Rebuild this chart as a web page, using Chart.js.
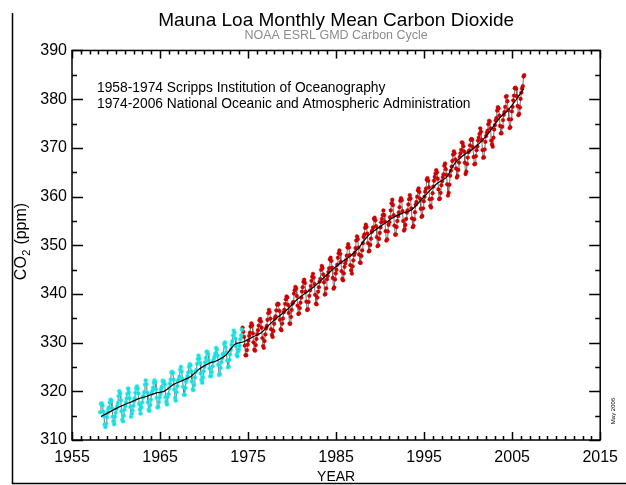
<!DOCTYPE html>
<html>
<head>
<meta charset="utf-8">
<title>Mauna Loa Monthly Mean Carbon Dioxide</title>
<script src="https://cdn.jsdelivr.net/npm/chart.js@4/dist/chart.umd.min.js"></script>
<style>
  body { margin: 0; background: #fff; }
  #wrap { position: relative; width: 626px; height: 485px; }
</style>
</head>
<body>
<div id="wrap"><canvas id="co2Chart"></canvas></div>
<script>
// Monthly means, one row per year (Jan..Dec), null = no value in this record
const scrippsFirstYear = 1958;
const scrippsCO2 = [
  [null, null, 315.71, 317.45, 317.50, 317.10, 315.86, 314.93, 313.20, 312.66, 313.33, 314.67],
  [315.62, 316.38, 316.71, 317.72, 318.29, 318.15, 316.54, 314.80, 313.84, 313.26, 314.80, 315.58],
  [316.43, 316.97, 317.58, 319.02, 320.03, 319.59, 318.18, 315.91, 314.16, 313.83, 315.00, 316.19],
  [316.93, 317.70, 318.54, 319.48, 320.58, 319.77, 318.57, 316.79, 314.80, 315.38, 316.10, 317.01],
  [317.94, 318.56, 319.68, 320.63, 321.01, 320.55, 319.58, 317.40, 316.26, 315.42, 316.69, 317.69],
  [318.74, 319.08, 319.86, 321.39, 322.25, 321.47, 319.74, 317.77, 316.21, 315.99, 317.12, 318.31],
  [319.57, 320.07, 320.73, 321.77, 322.25, 321.89, 320.44, 318.70, 316.70, 316.79, 317.79, 318.71],
  [319.44, 320.44, 320.89, 322.13, 322.16, 321.87, 321.39, 318.80, 317.81, 317.30, 318.87, 319.42],
  [320.62, 321.59, 322.39, 323.87, 324.01, 323.75, 322.39, 320.37, 318.64, 318.10, 319.79, 321.08],
  [322.07, 322.50, 323.04, 324.42, 325.00, 324.09, 322.55, 320.92, 319.31, 319.31, 320.72, 321.96],
  [322.57, 323.15, 323.89, 325.02, 325.57, 325.36, 324.14, 322.03, 320.41, 320.25, 321.31, 322.84],
  [324.00, 324.42, 325.64, 326.66, 327.34, 326.76, 325.88, 323.67, 322.38, 321.78, 322.85, 324.11],
  [325.03, 325.99, 326.87, 328.13, 328.07, 327.66, 326.35, 324.69, 323.10, 323.16, 323.98, 325.13],
  [326.17, 326.68, 327.18, 327.78, 328.92, 328.57, 327.34, 325.46, 323.36, 323.57, 324.80, 326.01],
  [326.77, 327.63, 327.75, 329.72, 330.07, 329.09, 328.05, 326.32, 324.93, 325.06, 326.50, 327.55],
  [328.54, 329.56, 330.30, 331.50, 332.48, 332.07, 330.87, 329.31, 327.51, 327.18, 328.16, 328.64],
  [329.35, 330.71, 331.48, 332.65, null, null, null, null, null, null, null, null]
];

const noaaFirstYear = 1974;
const noaaCO2 = [
  [null, null, null, null, 333.09, 332.25, 331.18, 329.40, 327.43, 327.37, 328.46, 329.57],
  [330.40, 331.40, 332.04, 333.31, 333.96, 333.59, 331.91, 330.06, 328.56, 328.34, 329.49, 330.76],
  [331.75, 332.56, 333.50, 334.58, 334.87, 334.34, 333.05, 330.94, 329.30, 328.94, 330.31, 331.68],
  [332.93, 333.42, 334.70, 336.07, 336.74, 336.27, 334.93, 332.75, 331.58, 331.16, 332.40, 333.85],
  [334.97, 335.39, 336.64, 337.76, 338.01, 337.89, 336.54, 334.68, 332.76, 332.54, 333.92, 334.95],
  [336.23, 336.76, 337.96, 338.89, 339.47, 339.29, 337.73, 336.09, 333.91, 333.86, 335.29, 336.73],
  [338.01, 338.36, 340.08, 340.77, 341.46, 341.17, 339.56, 337.60, 335.88, 336.01, 337.10, 338.21],
  [339.24, 340.48, 341.38, 342.51, 342.91, 342.25, 340.49, 338.43, 336.69, 336.85, 338.36, 339.61],
  [340.75, 341.61, 342.70, 343.56, 344.13, 343.35, 342.06, 339.82, 337.97, 337.86, 339.26, 340.49],
  [341.38, 342.52, 343.10, 344.94, 345.75, 345.32, 343.99, 342.39, 339.86, 339.99, 341.16, 342.99],
  [343.70, 344.51, 345.28, 347.08, 347.43, 346.79, 345.40, 343.28, 341.07, 341.35, 342.98, 344.22],
  [344.97, 346.00, 347.43, 348.35, 348.93, 348.25, 346.56, 344.67, 343.09, 342.80, 344.24, 345.56],
  [346.29, 346.96, 347.86, 349.55, 350.21, 349.54, 347.94, 345.91, 344.86, 344.17, 345.66, 346.90],
  [348.02, 348.47, 349.42, 350.99, 351.84, 351.25, 349.52, 348.10, 346.44, 346.36, 347.81, 348.96],
  [350.43, 351.72, 352.22, 353.59, 354.22, 353.79, 352.39, 350.44, 348.72, 348.88, 350.07, 351.34],
  [352.76, 353.07, 353.68, 355.42, 355.67, 355.13, 353.90, 351.67, 349.80, 349.99, 351.30, 352.52],
  [353.66, 354.70, 355.39, 356.20, 357.16, 356.22, 354.82, 352.91, 350.96, 351.18, 352.83, 354.21],
  [354.72, 355.75, 357.16, 358.60, 359.34, 358.24, 356.17, 354.03, 352.16, 352.21, 353.75, 354.99],
  [355.99, 356.72, 357.81, 359.15, 359.66, 359.25, 357.02, 355.00, 353.01, 353.31, 354.16, 355.40],
  [356.70, 357.17, 358.38, 359.46, 360.28, 359.60, 357.57, 355.52, 353.70, 353.98, 355.33, 356.80],
  [358.36, 358.91, 359.97, 361.26, 361.68, 360.95, 359.55, 357.49, 355.84, 356.00, 357.58, 359.04],
  [359.97, 361.00, 361.64, 363.45, 363.79, 363.26, 361.90, 359.46, 358.06, 357.75, 359.56, 360.70],
  [362.05, 363.25, 364.03, 364.72, 365.41, 364.97, 363.65, 361.49, 359.46, 359.60, 360.76, 362.33],
  [363.18, 364.00, 364.57, 366.35, 366.79, 365.62, 364.47, 362.51, 360.19, 360.77, 362.43, 364.28],
  [365.33, 366.15, 367.31, 368.61, 369.29, 368.87, 367.64, 365.77, 363.90, 364.23, 365.46, 366.97],
  [368.15, 368.87, 369.59, 371.14, 371.00, 370.35, 369.27, 366.94, 364.63, 365.12, 366.67, 368.01],
  [369.14, 369.46, 370.52, 371.66, 371.82, 371.70, 370.12, 368.12, 366.62, 366.73, 368.29, 369.53],
  [370.28, 371.50, 372.12, 372.87, 374.02, 373.30, 371.62, 369.55, 367.96, 368.09, 369.68, 371.24],
  [372.44, 373.08, 373.52, 374.85, 375.55, 375.40, 374.02, 371.49, 370.71, 370.25, 372.08, 373.78],
  [374.68, 375.62, 376.11, 377.65, 378.35, 378.13, 376.62, 374.50, 372.99, 373.00, 374.35, 375.70],
  [376.79, 377.37, 378.41, 380.52, 380.63, 379.57, 377.79, 375.86, 374.06, 374.24, 375.86, 377.48],
  [378.42, 379.76, 380.73, 382.24, 382.38, 382.15, 380.61, 378.60, 376.72, 376.98, 378.29, 380.07],
  [381.36, 382.19, 382.65, 384.65, 384.94, null, null, null, null, null, null, null]
];

// seasonally corrected trend (black line)
const trendYears = [1958.3, 1959.5, 1960.5, 1961.5, 1962.5, 1963.5, 1964.5, 1965.5, 1966.5, 1967.5,
  1968.5, 1969.5, 1970.5, 1971.5, 1972.5, 1973.5, 1974.5, 1975.5, 1976.5, 1977.5,
  1978.5, 1979.5, 1980.5, 1981.5, 1982.5, 1983.5, 1984.5, 1985.5, 1986.5, 1987.5,
  1988.5, 1989.5, 1990.5, 1991.5, 1992.5, 1993.5, 1994.5, 1995.5, 1996.5, 1997.5,
  1998.5, 1999.5, 2000.5, 2001.5, 2002.5, 2003.5, 2004.5, 2005.5, 2006.3];
const trendCO2 = [314.8, 315.98, 316.91, 317.64, 318.45, 318.99, 319.62, 320.04, 321.37, 322.18,
  323.05, 324.62, 325.68, 326.32, 327.46, 329.68, 330.19, 331.13, 332.03, 333.84,
  335.41, 336.84, 338.76, 340.12, 341.48, 343.15, 344.85, 346.35, 347.61, 349.31,
  351.69, 353.20, 354.45, 355.70, 356.54, 357.21, 358.96, 360.97, 362.74, 363.88,
  366.84, 368.54, 369.71, 371.32, 373.45, 375.98, 377.70, 379.98, 382.1];

const xTicks = [1955, 1965, 1975, 1985, 1995, 2005, 2015];
const yTicks = [310, 320, 330, 340, 350, 360, 370, 380, 390];
const sourceNotes = [
  '1958-1974 Scripps Institution of Oceanography',
  '1974-2006 National Oceanic and Atmospheric Administration'
];

// turn the yearly rows into {x: decimal year, y} points
function toPoints(firstYear, rows) {
  const pts = [];
  rows.forEach((row, i) => {
    row.forEach((v, m) => {
      if (v !== null) pts.push({ x: firstYear + i + (m + 0.5) / 12, y: v });
    });
  });
  return pts;
}

const FONT = "'Liberation Sans', Arial, Helvetica, sans-serif";

// box, inward ticks and the extra labels IDL-style
const framePlugin = {
  id: 'frame',
  afterDraw(chart) {
    const { ctx, chartArea: a, scales: { x, y } } = chart;
    ctx.save();
    ctx.strokeStyle = '#000';
    ctx.lineWidth = 1.5;
    ctx.strokeRect(a.left, a.top, a.right - a.left, a.bottom - a.top);

    ctx.beginPath();
    for (let yr = x.min; yr <= x.max; yr++) {
      const px = Math.round(x.getPixelForValue(yr)) + 0.5;
      const len = (yr - x.min) % 10 === 0 ? 8 : 4;
      ctx.moveTo(px, a.bottom); ctx.lineTo(px, a.bottom - len);
      ctx.moveTo(px, a.top); ctx.lineTo(px, a.top + len);
    }
    for (let v = y.min; v <= y.max; v += 5) {
      const py = Math.round(y.getPixelForValue(v)) + 0.5;
      const len = v % 10 === 0 ? 11 : 5;
      ctx.moveTo(a.left, py); ctx.lineTo(a.left + len, py);
      ctx.moveTo(a.right, py); ctx.lineTo(a.right - len, py);
    }
    ctx.stroke();

    // outer frame lines (left and bottom of the image)
    ctx.beginPath();
    ctx.moveTo(12.5, 13); ctx.lineTo(12.5, 483.5); ctx.lineTo(626, 483.5);
    ctx.stroke();

    // y axis title with subscript
    ctx.fillStyle = '#000';
    ctx.translate(22, 242);
    ctx.rotate(-Math.PI / 2);
    ctx.textBaseline = 'middle';
    ctx.textAlign = 'left';
    ctx.font = '16px ' + FONT;
    const w1 = ctx.measureText('CO').width;
    const w3 = ctx.measureText(' (ppm)').width;
    ctx.font = '11px ' + FONT;
    const w2 = ctx.measureText('2').width;
    let sx = -(w1 + w2 + w3) / 2;
    ctx.font = '16px ' + FONT;
    ctx.fillText('CO', sx, 0);
    ctx.font = '11px ' + FONT;
    ctx.fillText('2', sx + w1 + 0.5, 5);
    ctx.font = '16px ' + FONT;
    ctx.fillText(' (ppm)', sx + w1 + w2 + 1, 0);
    ctx.restore();

    // source notes
    ctx.save();
    ctx.fillStyle = '#000';
    ctx.font = '13.8px ' + FONT;
    ctx.textBaseline = 'middle';
    sourceNotes.forEach((t, i) => ctx.fillText(t, 97, 88 + i * 16));

    // date stamp
    ctx.translate(613, 411);
    ctx.rotate(-Math.PI / 2);
    ctx.font = '6px ' + FONT;
    ctx.textAlign = 'center';
    ctx.fillText('May 2006', 0, 0);
    ctx.restore();
  }
};

new Chart(document.getElementById('co2Chart'), {
  type: 'line',
  data: {
    datasets: [
      {
        label: 'Trend',
        data: trendYears.map((yr, i) => ({ x: yr, y: trendCO2[i] })),
        borderColor: '#000',
        borderWidth: 1.2,
        pointRadius: 0,
        tension: 0.3,
        order: 0
      },
      {
        label: 'Scripps',
        data: toPoints(scrippsFirstYear, scrippsCO2),
        borderColor: '#707070',
        borderWidth: 1,
        pointRadius: 1.9,
        pointBackgroundColor: '#10dede',
        pointBorderColor: 'rgba(60,235,235,0.45)',
        pointBorderWidth: 1.2,
        order: 1
      },
      {
        label: 'NOAA',
        data: toPoints(noaaFirstYear, noaaCO2),
        borderColor: '#707070',
        borderWidth: 1,
        pointRadius: 1.9,
        pointBackgroundColor: '#d00000',
        pointBorderColor: 'rgba(190,0,0,0.6)',
        pointBorderWidth: 0.6,
        order: 2
      }
    ]
  },
  options: {
    responsive: true,
    maintainAspectRatio: false,
    animation: false,
    layout: { padding: { left: 0, right: 22, top: 0, bottom: 0 } },
    plugins: {
      legend: { display: false },
      tooltip: { enabled: false },
      title: {
        display: true,
        fullSize: false,
        text: 'Mauna Loa Monthly Mean Carbon Dioxide',
        color: '#000',
        font: { family: FONT, size: 19, weight: 'normal', lineHeight: 1 },
        padding: { top: 11.5, bottom: 0 }
      },
      subtitle: {
        display: true,
        fullSize: false,
        text: 'NOAA ESRL GMD Carbon Cycle',
        color: '#8c8c8c',
        font: { family: FONT, size: 12.5, lineHeight: 0.75 },
        padding: { top: 0, bottom: 10.6 }
      }
    },
    scales: {
      x: {
        type: 'linear',
        min: 1955,
        max: 2015,
        afterBuildTicks: s => { s.ticks = xTicks.map(v => ({ value: v })); },
        afterFit: s => { s.height = 45; },
        grid: { display: false, drawTicks: false },
        border: { display: false },
        ticks: {
          color: '#000',
          padding: 8,
          maxRotation: 0,
          font: { family: FONT, size: 16 },
          callback: v => String(v)
        },
        title: {
          display: true,
          text: 'YEAR',
          color: '#000',
          font: { family: FONT, size: 14, lineHeight: 1.1 },
          padding: { top: 0, bottom: 0 }
        }
      },
      y: {
        min: 310,
        max: 390,
        afterBuildTicks: s => { s.ticks = yTicks.map(v => ({ value: v })); },
        afterFit: s => { s.width = 72; },
        grid: { display: false, drawTicks: false },
        border: { display: false },
        ticks: {
          color: '#000',
          padding: 5,
          font: { family: FONT, size: 16 },
          callback: v => String(v)
        }
      }
    }
  },
  plugins: [framePlugin]
});
</script>
</body>
</html>
